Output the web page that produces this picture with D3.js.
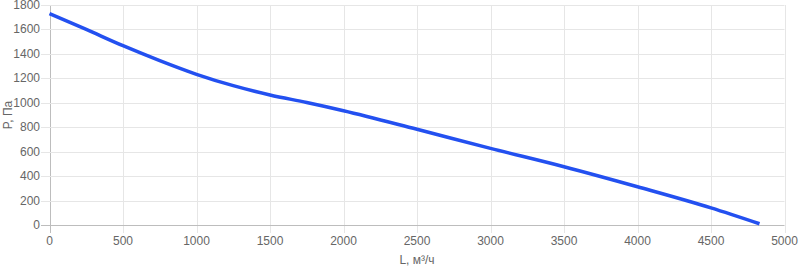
<!DOCTYPE html>
<html><head><meta charset="utf-8">
<script src="https://cdn.jsdelivr.net/npm/d3@7"></script>
<style>body{margin:0;background:#fff}svg{display:block}text{font-family:"Liberation Sans",Arial,sans-serif}</style>
</head><body><svg id="c" width="799" height="266"></svg>
<script>
const flowValues = [0, 250, 500, 750, 1000, 1250, 1500, 1750, 2000, 2500, 3000, 3500, 4000, 4500, 4830];
const pressureValues = [1730, 1600, 1467, 1345, 1233, 1140, 1064, 1002, 935, 783, 627, 477, 313, 140, 10];
const xTicks = [0, 500, 1000, 1500, 2000, 2500, 3000, 3500, 4000, 4500, 5000];
const yTicks = [0, 200, 400, 600, 800, 1000, 1200, 1400, 1600, 1800];
const xTitle = "L, м³/ч";
const yTitle = "P, Па";

const svg = d3.select("#c");
const x = d3.scaleLinear().domain([0, 5000]).range([49.5, 784.5]);
const y = d3.scaleLinear().domain([0, 1800]).range([225, 5]);

const grid = svg.append("g");
grid.selectAll(".vx").data(xTicks).join("line")
  .attr("x1", d => Math.round(x(d)) + 0.5).attr("x2", d => Math.round(x(d)) + 0.5)
  .attr("y1", y(1800)).attr("y2", 233)
  .attr("stroke", d => d === 0 ? "#bdbdbd" : "#e6e6e6").attr("stroke-width", 1);
grid.selectAll(".hy").data(yTicks).join("line")
  .attr("y1", d => Math.round(y(d)) + 0.5).attr("y2", d => Math.round(y(d)) + 0.5)
  .attr("x1", 41).attr("x2", x(5000))
  .attr("stroke", d => d === 0 ? "#bdbdbd" : "#e6e6e6").attr("stroke-width", 1);

svg.append("g").selectAll("text").data(xTicks).join("text")
  .attr("x", d => x(d)).attr("y", 245).attr("text-anchor", "middle")
  .attr("font-size", 12).attr("fill", "#666").text(d => d);
svg.append("g").selectAll("text").data(yTicks).join("text")
  .attr("x", 40).attr("y", d => y(d) + 4).attr("text-anchor", "end")
  .attr("font-size", 12).attr("fill", "#666").text(d => d);

svg.append("text").attr("x", 417).attr("y", 264).attr("text-anchor", "middle")
  .attr("font-size", 12).attr("fill", "#666").text(xTitle);
svg.append("text").attr("transform", "translate(12,115) rotate(-90)").attr("text-anchor", "middle")
  .attr("font-size", 12).attr("fill", "#666").text(yTitle);

const line = d3.line().x((d, i) => x(flowValues[i])).y(d => y(d)).curve(d3.curveMonotoneX);
svg.append("path").datum(pressureValues).attr("d", line)
  .attr("fill", "none").attr("stroke", "#2350f0").attr("stroke-width", 3.5)
  .attr("stroke-linejoin", "round");
</script></body></html>
